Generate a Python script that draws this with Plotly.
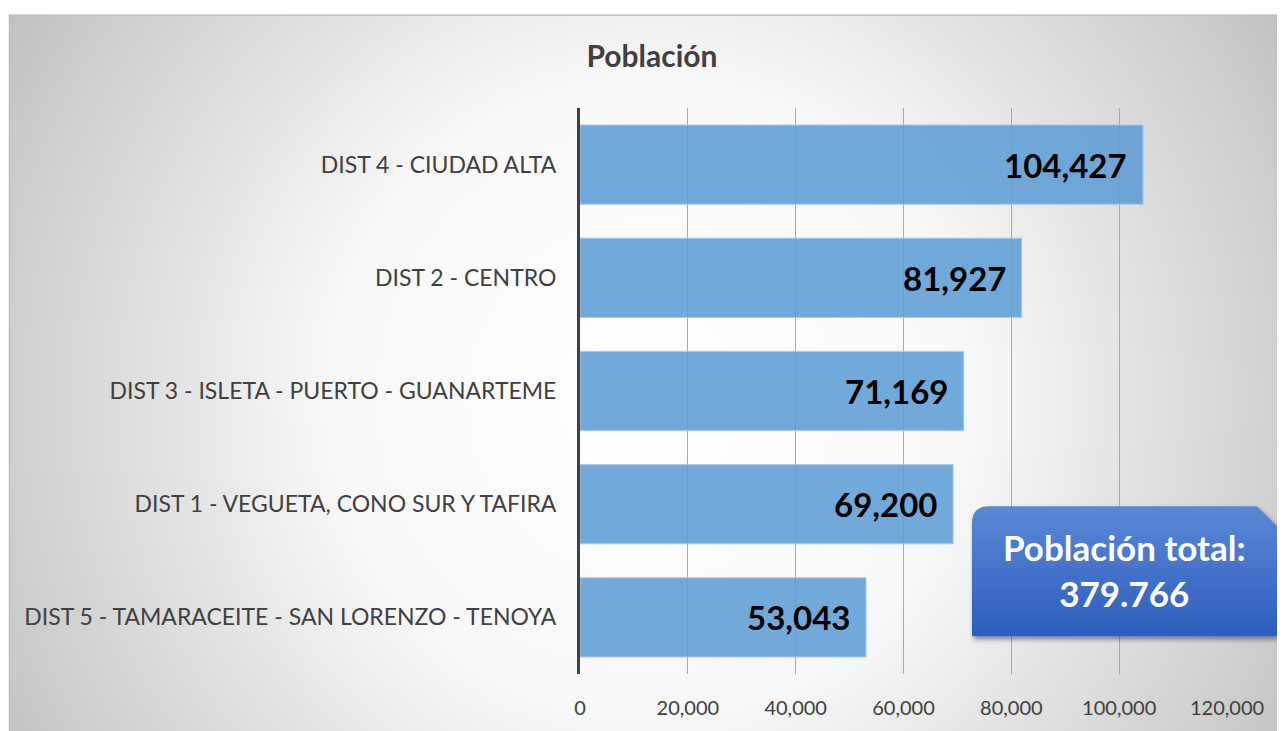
import base64
import plotly.graph_objects as go

# ---- data ----
categories = [
    "DIST 4 - CIUDAD ALTA",
    "DIST 2 - CENTRO",
    "DIST 3 - ISLETA - PUERTO - GUANARTEME",
    "DIST 1 - VEGUETA, CONO SUR Y TAFIRA",
    "DIST 5 - TAMARACEITE - SAN LORENZO - TENOYA",
]
poblacion = [104427, 81927, 71169, 69200, 53043]
x_ticks = [0, 20000, 40000, 60000, 80000, 100000, 120000]
titulo = "Población"
total_texto = "Población total:<br>379.766"

# ---- layout geometry (screen pixels; page body has an 8px margin) ----
OFF = 8
WW, HH = 1285 - OFF, 731 - OFF
L, R, T, B = 580 - OFF, 1227 - OFF, 108 - OFF, 678 - OFF
PW, PH = R - L, B - T
EXT = 20  # background drawn a bit past the figure edges


def px(x):
    return (x - OFF - L) / PW


def py(y):
    return (B - (y - OFF)) / PH


FONT = "Lato"

BW, BH = WW + EXT, HH + EXT
bg_svg = f"""<svg xmlns='http://www.w3.org/2000/svg' width='{BW}' height='{BH}' viewBox='0 0 {BW} {BH}' preserveAspectRatio='none'>
<defs><radialGradient id='g' gradientUnits='userSpaceOnUse' cx='642' cy='392' r='760'>
<stop offset='0' stop-color='#ffffff'/><stop offset='0.42' stop-color='#f8f8f8'/>
<stop offset='1' stop-color='#c0c0c0'/></radialGradient></defs>
<rect x='0' y='0' width='{BW}' height='{BH}' fill='#ffffff'/>
<rect x='1.5' y='6.5' width='{BW + 10}' height='{BH + 10}' fill='url(#g)' stroke='#bdbdbd' stroke-width='1.5'/>
</svg>"""

box_svg = """<svg xmlns='http://www.w3.org/2000/svg' width='325' height='150' viewBox='0 0 325 150' preserveAspectRatio='none'>
<defs><linearGradient id='b' x1='0' y1='0' x2='0' y2='1'>
<stop offset='0' stop-color='#5b88d6'/><stop offset='1' stop-color='#2d5dbd'/></linearGradient>
<filter id='s' x='-10%' y='-10%' width='130%' height='130%'><feGaussianBlur in='SourceAlpha' stdDeviation='2.5'/>
<feOffset dx='2' dy='3' result='o'/><feComponentTransfer><feFuncA type='linear' slope='0.45'/></feComponentTransfer>
<feMerge><feMergeNode/><feMergeNode in='SourceGraphic'/></feMerge></filter></defs>
<path d='M12,26 Q12,9 29,9 L297,9 L317,29 L317,140 L12,140 Z' fill='url(#b)' filter='url(#s)'/>
</svg>"""


def uri(s):
    return "data:image/svg+xml;base64," + base64.b64encode(s.encode()).decode()


fig = go.Figure()
fig.add_trace(go.Bar(
    x=poblacion,
    y=categories,
    orientation="h",
    marker=dict(color="rgba(95,157,214,0.88)", line=dict(color="#a9c9ea", width=1)),
    hoverinfo="x+y",
))

for v, c in zip(poblacion, categories):
    fig.add_annotation(
        x=v, y=c, xref="x", yref="y", text=f"{v:,}", showarrow=False,
        xanchor="right", yanchor="middle", xshift=-14,
        font=dict(family=FONT, size=33, color="#000000", weight="bold"),
    )

fig.add_annotation(
    x=px(1124), y=py(573), xref="paper", yref="paper", text=total_texto,
    showarrow=False, xanchor="center", yanchor="middle", align="center",
    font=dict(family=FONT, size=35, color="#ffffff", weight="bold"),
)

fig.update_layout(
    width=WW, height=HH,
    margin=dict(l=L, r=WW - R, t=T, b=HH - B, pad=0),
    paper_bgcolor="#ffffff",
    plot_bgcolor="rgba(0,0,0,0)",
    showlegend=False,
    bargap=0.3,
    title=dict(
        text=titulo, x=px(652), xref="paper", xanchor="center",
        y=1 - (56 - OFF) / HH, yref="container", yanchor="middle",
        font=dict(family=FONT, size=30, color="#404040", weight="bold"),
    ),
    xaxis=dict(
        range=[0, 120000], tickvals=x_ticks, tickformat=",",
        showgrid=True, gridcolor="#a9a9a9", gridwidth=1,
        zeroline=False, showline=False, ticks="",
        ticklabelstandoff=20,
        tickfont=dict(family=FONT, size=20, color="#404040"),
        fixedrange=True,
    ),
    yaxis=dict(
        autorange="reversed", showgrid=False, zeroline=False,
        showline=True, linecolor="#404040", linewidth=3,
        ticks="", ticklabelstandoff=16,
        tickfont=dict(family=FONT, size=23, color="#404040"),
        fixedrange=True,
    ),
    images=[
        dict(source=uri(bg_svg), xref="paper", yref="paper",
             x=(0 - L) / PW, y=B / PH, sizex=BW / PW, sizey=BH / PH,
             xanchor="left", yanchor="top", sizing="stretch", layer="below"),
        dict(source=uri(box_svg), xref="paper", yref="paper",
             x=px(960), y=py(500), sizex=325 / PW, sizey=150 / PH,
             xanchor="left", yanchor="top", sizing="stretch", layer="above"),
    ],
)

fig.write_html("out.html", config={"displayModeBar": False})
